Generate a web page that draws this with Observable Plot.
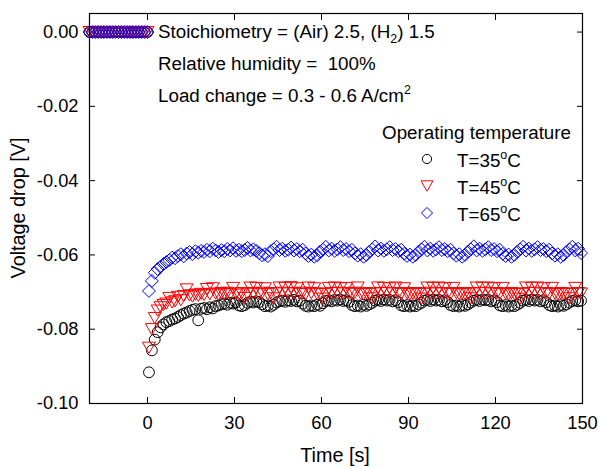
<!DOCTYPE html>
<html><head><meta charset="utf-8">
<script src="https://cdn.jsdelivr.net/npm/d3@7"></script>
<script src="https://cdn.jsdelivr.net/npm/@observablehq/plot@0.6"></script>
<style>
body{margin:0;background:#fff}
#chart{width:598px;height:468px}
</style>
</head><body><div id="chart"></div>
<script>
// ---------------- data ----------------
const xTicks = [0, 30, 60, 90, 120, 150];
const yTicks = [0, -0.02, -0.04, -0.06, -0.08, -0.10];
const seriesLabels = ["35", "45", "65"];

// before the load change (all series at 0)
const preTime = [-20,-19,-18,-17,-16,-15,-14,-13,-12,-11,-10,-9,-8,-7,-6,-5,-4,-3,-2,-1,0];
const preVoltage = [0,0,0,0,0,0,0,0,0,0,0,0,0,0,0,0,0,0,0,0,0];

// after the load change
const postTime = [0.5,1.5,2.5,3.5,4.5,5.5,6.5,7.5,8.5,9.5,10.5,11.5,12.5,13.5,14.5,15.5,16.5,17.5,18.5,19.5,
20.5,21.5,22.5,23.5,24.5,25.5,26.5,27.5,28.5,29.5,30.5,31.5,32.5,33.5,34.5,35.5,36.5,37.5,38.5,39.5,
40.5,41.5,42.5,43.5,44.5,45.5,46.5,47.5,48.5,49.5,50.5,51.5,52.5,53.5,54.5,55.5,56.5,57.5,58.5,59.5,
60.5,61.5,62.5,63.5,64.5,65.5,66.5,67.5,68.5,69.5,70.5,71.5,72.5,73.5,74.5,75.5,76.5,77.5,78.5,79.5,
80.5,81.5,82.5,83.5,84.5,85.5,86.5,87.5,88.5,89.5,90.5,91.5,92.5,93.5,94.5,95.5,96.5,97.5,98.5,99.5,
100.5,101.5,102.5,103.5,104.5,105.5,106.5,107.5,108.5,109.5,110.5,111.5,112.5,113.5,114.5,115.5,116.5,117.5,118.5,119.5,
120.5,121.5,122.5,123.5,124.5,125.5,126.5,127.5,128.5,129.5,130.5,131.5,132.5,133.5,134.5,135.5,136.5,137.5,138.5,139.5,
140.5,141.5,142.5,143.5,144.5,145.5,146.5,147.5,148.5,149.5];

const v35 = [-0.0916,-0.0857,-0.0828,-0.0808,-0.0795,-0.0787,-0.0781,-0.0778,-0.0774,-0.0771,
-0.0767,-0.0762,-0.0758,-0.0755,-0.0751,-0.0748,-0.0746,-0.0776,-0.0745,-0.0743,
-0.0746,-0.0741,-0.0744,-0.0738,-0.0736,-0.0733,-0.0731,-0.0734,-0.0729,-0.0731,
-0.0728,-0.0736,-0.0738,-0.0735,-0.0729,-0.0726,-0.0728,-0.0725,-0.0727,-0.0733,
-0.0738,-0.0736,-0.0739,-0.0734,-0.0728,-0.0725,-0.0723,-0.0726,-0.0722,-0.0724,
-0.0721,-0.0725,-0.0723,-0.0731,-0.0737,-0.0739,-0.0736,-0.0738,-0.0734,-0.0737,
-0.0730,-0.0724,-0.0722,-0.0725,-0.0721,-0.0723,-0.0720,-0.0724,-0.0722,-0.0726,
-0.0735,-0.0738,-0.0736,-0.0739,-0.0734,-0.0737,-0.0733,-0.0729,-0.0723,-0.0721,
-0.0724,-0.0720,-0.0723,-0.0721,-0.0725,-0.0722,-0.0727,-0.0736,-0.0738,-0.0735,
-0.0739,-0.0736,-0.0738,-0.0733,-0.0729,-0.0723,-0.0721,-0.0724,-0.0720,-0.0723,
-0.0721,-0.0725,-0.0722,-0.0727,-0.0735,-0.0738,-0.0736,-0.0739,-0.0735,-0.0737,
-0.0733,-0.0728,-0.0723,-0.0721,-0.0724,-0.0720,-0.0722,-0.0721,-0.0725,-0.0722,
-0.0727,-0.0736,-0.0738,-0.0735,-0.0739,-0.0736,-0.0738,-0.0734,-0.0729,-0.0723,
-0.0721,-0.0724,-0.0720,-0.0723,-0.0721,-0.0725,-0.0722,-0.0727,-0.0735,-0.0738,
-0.0736,-0.0739,-0.0735,-0.0737,-0.0733,-0.0728,-0.0724,-0.0722,-0.0725,-0.0723];

const v45 = [-0.0850,-0.0800,-0.0770,-0.0750,-0.0741,-0.0735,-0.0731,-0.0716,-0.0728,-0.0725,
-0.0713,-0.0722,-0.0711,-0.0693,-0.0709,-0.0712,-0.0707,-0.0710,-0.0705,-0.0708,
-0.0692,-0.0706,-0.0690,-0.0704,-0.0707,-0.0703,-0.0705,-0.0702,-0.0706,-0.0689,
-0.0704,-0.0707,-0.0703,-0.0716,-0.0705,-0.0688,-0.0703,-0.0689,-0.0705,-0.0702,
-0.0690,-0.0706,-0.0703,-0.0717,-0.0704,-0.0688,-0.0702,-0.0689,-0.0704,-0.0687,
-0.0703,-0.0690,-0.0705,-0.0702,-0.0706,-0.0688,-0.0703,-0.0690,-0.0705,-0.0704,
-0.0718,-0.0706,-0.0689,-0.0703,-0.0688,-0.0702,-0.0690,-0.0704,-0.0689,-0.0703,
-0.0705,-0.0702,-0.0688,-0.0704,-0.0706,-0.0703,-0.0705,-0.0717,-0.0704,-0.0688,
-0.0703,-0.0689,-0.0702,-0.0690,-0.0704,-0.0688,-0.0703,-0.0705,-0.0690,-0.0703,
-0.0706,-0.0704,-0.0705,-0.0703,-0.0718,-0.0705,-0.0688,-0.0702,-0.0689,-0.0704,
-0.0688,-0.0703,-0.0690,-0.0704,-0.0705,-0.0689,-0.0703,-0.0706,-0.0704,-0.0705,
-0.0703,-0.0717,-0.0704,-0.0688,-0.0703,-0.0689,-0.0702,-0.0688,-0.0704,-0.0690,
-0.0703,-0.0705,-0.0689,-0.0704,-0.0706,-0.0703,-0.0705,-0.0704,-0.0718,-0.0705,
-0.0688,-0.0703,-0.0689,-0.0702,-0.0688,-0.0704,-0.0690,-0.0703,-0.0705,-0.0689,
-0.0704,-0.0706,-0.0703,-0.0705,-0.0704,-0.0717,-0.0705,-0.0689,-0.0703,-0.0704];

const v65 = [-0.0697,-0.0670,-0.0648,-0.0638,-0.0632,-0.0624,-0.0619,-0.0614,-0.0607,-0.0609,
-0.0603,-0.0598,-0.0604,-0.0596,-0.0592,-0.0598,-0.0590,-0.0594,-0.0589,-0.0592,
-0.0586,-0.0590,-0.0583,-0.0588,-0.0592,-0.0587,-0.0590,-0.0584,-0.0588,-0.0582,
-0.0589,-0.0586,-0.0590,-0.0587,-0.0581,-0.0588,-0.0585,-0.0589,-0.0595,-0.0601,
-0.0598,-0.0603,-0.0590,-0.0585,-0.0578,-0.0587,-0.0583,-0.0589,-0.0586,-0.0580,
-0.0588,-0.0584,-0.0590,-0.0586,-0.0596,-0.0603,-0.0599,-0.0605,-0.0601,-0.0591,
-0.0586,-0.0578,-0.0588,-0.0583,-0.0589,-0.0585,-0.0579,-0.0587,-0.0584,-0.0590,
-0.0586,-0.0596,-0.0602,-0.0598,-0.0605,-0.0600,-0.0591,-0.0585,-0.0577,-0.0588,
-0.0583,-0.0589,-0.0585,-0.0579,-0.0587,-0.0584,-0.0590,-0.0586,-0.0597,-0.0603,
-0.0599,-0.0605,-0.0600,-0.0591,-0.0585,-0.0578,-0.0588,-0.0583,-0.0589,-0.0585,
-0.0579,-0.0587,-0.0584,-0.0590,-0.0586,-0.0596,-0.0602,-0.0598,-0.0605,-0.0600,
-0.0591,-0.0585,-0.0577,-0.0588,-0.0583,-0.0589,-0.0585,-0.0579,-0.0587,-0.0584,
-0.0590,-0.0586,-0.0597,-0.0603,-0.0599,-0.0605,-0.0600,-0.0591,-0.0585,-0.0578,
-0.0588,-0.0583,-0.0589,-0.0585,-0.0579,-0.0587,-0.0584,-0.0590,-0.0586,-0.0596,
-0.0602,-0.0598,-0.0605,-0.0600,-0.0591,-0.0585,-0.0578,-0.0588,-0.0583,-0.0595];

// ---------------- build tables ----------------
function table(vals) {
  const rows = preTime.map((t, i) => ({t, v: preVoltage[i]}));
  postTime.forEach((t, i) => rows.push({t, v: vals[i]}));
  return rows;
}
const d35 = table(v35), d45 = table(v45), d65 = table(v65);

// inverted triangle symbol
const triangleDown = {
  draw(context, size) {
    const r = Math.sqrt(size / Math.PI);
    const w = 1.2 * r, h = 1.04 * r;
    context.moveTo(-w, -h);
    context.lineTo(w, -h);
    context.lineTo(0, h);
    context.closePath();
  }
};

const FONT = "'Liberation Sans', Arial, Helvetica, sans-serif";
const fmtY = d => d.toFixed(2);

const chart = Plot.plot({
  width: 598,
  height: 468,
  marginLeft: 89,
  marginRight: 16,
  marginTop: 13,
  marginBottom: 65,
  style: {fontFamily: FONT, fontSize: "18px", color: "black", background: "white"},
  x: {domain: [-20, 150]},
  y: {domain: [-0.1, 0.005]},
  marks: [
    Plot.axisX(xTicks, {anchor: "bottom", tickSize: 0, tickPadding: 12, fontSize: 18.3, label: null, tickFormat: d => String(d)}),
    Plot.axisX(xTicks, {anchor: "bottom", tickSize: -6, tickFormat: () => "", label: null}),
    Plot.axisX(xTicks, {anchor: "top", tickSize: -6, tickFormat: () => "", label: null}),
    Plot.axisY(yTicks, {anchor: "left", tickSize: 0, tickPadding: 11, fontSize: 18.3, label: null, tickFormat: fmtY}),
    Plot.axisY(yTicks, {anchor: "left", tickSize: -6, tickFormat: () => "", label: null}),
    Plot.axisY(yTicks, {anchor: "right", tickSize: -6, tickFormat: () => "", label: null}),
    Plot.dot(d35, {x: "t", y: "v", r: 5.4, stroke: "black", fill: "none", strokeWidth: 1}),
    Plot.dot(d45, {x: "t", y: "v", r: 5.4, symbol: triangleDown, stroke: "#ff0000", fill: "none", strokeWidth: 1}),
    Plot.dot(d65, {x: "t", y: "v", r: 5.8, symbol: "diamond2", stroke: "#0000ff", fill: "none", strokeWidth: 1}),
    Plot.frame({stroke: "black", strokeWidth: 1.2})
  ]
});

document.getElementById("chart").appendChild(chart);

// ---------------- annotations ----------------
const svg = d3.select(chart);
const g = svg.append("g").attr("font-family", FONT).attr("font-size", 18.8).attr("fill", "black");

// text builder for sub/sup spans that restores baseline
function richText(x, y, segs, anchor = "start", size) {
  const t = g.append("text").attr("x", x).attr("y", y).attr("text-anchor", anchor)
    .attr("xml:space", "preserve").style("white-space", "pre");
  if (size) t.attr("font-size", size);
  let shift = 0;
  segs.forEach(s => {
    const target = s.shift || 0;
    const sp = t.append("tspan").attr("dy", target - shift).text(s.text);
    if (s.size) sp.attr("font-size", s.size);
    shift = target;
  });
  return t;
}

richText(158, 38, [{text: "Stoichiometry = (Air) 2.5, (H"}, {text: "2", size: 12.5, shift: 5}, {text: ") 1.5"}]);
richText(158, 70, [{text: "Relative humidity =  100%"}]);
richText(158, 102, [{text: "Load change = 0.3 - 0.6 A/cm"}, {text: "2", size: 12.5, shift: -8}]);
richText(571, 139, [{text: "Operating temperature"}], "end");

// axis titles
g.append("text").attr("transform", "translate(25,208) rotate(-90)").attr("text-anchor", "middle")
  .attr("font-size", 19.8).text("Voltage drop [V]");
g.append("text").attr("x", 335).attr("y", 462).attr("text-anchor", "middle")
  .attr("font-size", 19.8).text("Time [s]");

// legend
const legendSymbols = [d3.symbolCircle, triangleDown, d3.symbolDiamond2];
const legendColors = ["black", "#ff0000", "#0000ff"];
const legendY = [159, 186, 213];
const legendR = [4.6, 5, 5];
seriesLabels.forEach((lab, i) => {
  g.append("path")
    .attr("transform", `translate(427,${legendY[i]})`)
    .attr("d", d3.symbol(legendSymbols[i], Math.PI * legendR[i] * legendR[i])())
    .attr("fill", "none").attr("stroke", legendColors[i]).attr("stroke-width", 1);
  richText(457, legendY[i] + 8, [{text: "T=" + lab}, {text: "o", size: 12.5, shift: -8}, {text: "C"}]);
});
</script>
</body></html>
